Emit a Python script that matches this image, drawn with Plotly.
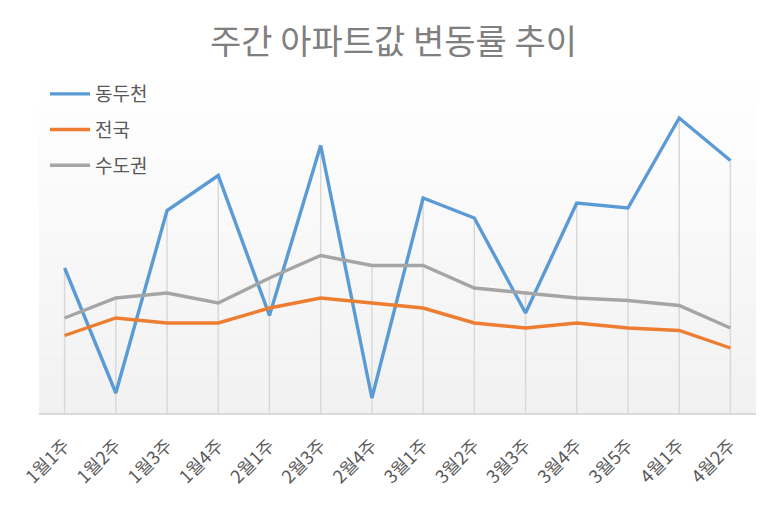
import plotly.graph_objects as go

categories = ["1월1주", "1월2주", "1월3주", "1월4주", "2월1주", "2월3주", "2월4주",
              "3월1주", "3월2주", "3월3주", "3월4주", "3월5주", "4월1주", "4월2주"]
dongducheon = [0.58, 0.08, 0.81, 0.95, 0.39, 1.07, 0.06, 0.86, 0.78, 0.40, 0.84, 0.82, 1.18, 1.01]
national = [0.31, 0.38, 0.36, 0.36, 0.42, 0.46, 0.44, 0.42, 0.36, 0.34, 0.36, 0.34, 0.33, 0.26]
capital = [0.38, 0.46, 0.48, 0.44, 0.54, 0.63, 0.59, 0.59, 0.50, 0.48, 0.46, 0.45, 0.43, 0.34]

series = [("동두천", dongducheon, "#5B9BD5"),
          ("전국", national, "#ED7D31"),
          ("수도권", capital, "#A5A5A5")]

Y_MIN, Y_MAX = 0.0, 1.352
FONT = "Noto Sans CJK KR, Noto Sans, sans-serif"
W, H = 771, 499  # page adds an 8px body margin

fig = go.Figure()

# drop lines from axis to the highest series value at each category
dx, dy = [], []
for i, c in enumerate(categories):
    top = max(s[1][i] for s in series)
    dx += [c, c, None]
    dy += [Y_MIN, top, None]
fig.add_trace(go.Scatter(x=dx, y=dy, mode="lines", showlegend=False, hoverinfo="skip",
                         line=dict(color="#d9d9d9", width=1.5)))

for name, vals, color in series:
    fig.add_trace(go.Scatter(x=categories, y=vals, mode="lines", name=name,
                             legendgroup=name,
                             line=dict(color=color, width=3.4)))

# gradient plot background
n = 40
shapes = []
for k in range(n):
    t = (k + 0.5) / n  # 0 at bottom -> 1 at top
    v = int(round(241 + (255 - 241) * t))
    shapes.append(dict(type="rect", xref="x domain", yref="y domain",
                       x0=0, x1=1, y0=k / n, y1=(k + 1) / n,
                       fillcolor=f"rgb({v},{v},{v})", line=dict(width=0), layer="below"))

fig.update_layout(
    width=W, height=H,
    margin=dict(l=31, r=23, t=67, b=94, autoexpand=False),
    paper_bgcolor="white", plot_bgcolor="white",
    shapes=shapes,
    title=dict(text="주간 아파트값 변동률 추이", x=0.5, xanchor="center",
               y=1 - 34 / H, yanchor="middle", yref="container",
               font=dict(family=FONT, size=34, color="#7f7f7f")),
    legend=dict(x=37 / W, xref="container", y=1 - 67 / H, yref="container",
                xanchor="left", yanchor="top", bgcolor="rgba(0,0,0,0)",
                traceorder="grouped", tracegroupgap=8, itemwidth=40,
                font=dict(family=FONT, size=19, color="#595959")),
    xaxis=dict(type="category", range=[-0.5, len(categories) - 0.5],
               showgrid=False, showline=True, linecolor="#d9d9d9", linewidth=2,
               ticks="", tickangle=-45, ticklabelstandoff=13,
               tickfont=dict(family=FONT, size=18, color="#595959")),
    yaxis=dict(range=[Y_MIN, Y_MAX], visible=False, showgrid=False, zeroline=False),
)

fig.write_html("out.html")
